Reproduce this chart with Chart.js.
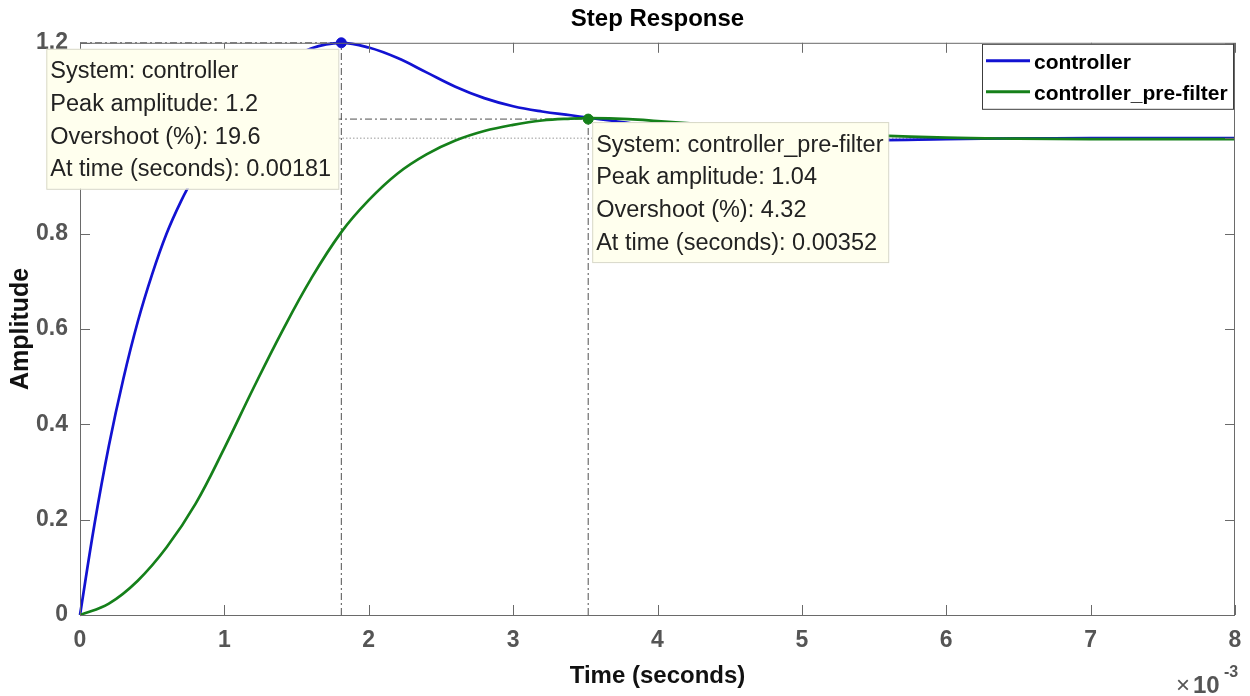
<!DOCTYPE html>
<html>
<head>
<meta charset="utf-8">
<title>Step Response</title>
<script src="https://cdn.jsdelivr.net/npm/chart.js@4.4.1/dist/chart.umd.min.js"></script>
<style>
  html, body { margin: 0; padding: 0; background: #fff; }
</style>
</head>
<body>
<canvas id="stepChart" width="1250" height="696"></canvas>
<script>
// time axis is in ms (the axis shows x10^-3 seconds)
const timeController = [0, 0.1, 0.2, 0.3, 0.4, 0.5, 0.6, 0.7, 0.8, 0.9, 1.0, 1.2, 1.4, 1.6, 1.81, 2.0, 2.2, 2.4, 2.6, 2.8, 3.0, 3.2, 3.4, 3.52, 3.7, 4.0, 4.5, 5.0, 5.5, 6.0, 6.5, 7.0, 8.0];
const ampController = [0, 0.19, 0.355, 0.495, 0.615, 0.715, 0.80, 0.868, 0.925, 0.975, 1.02, 1.098, 1.155, 1.188, 1.2, 1.19, 1.168, 1.138, 1.108, 1.084, 1.067, 1.056, 1.048, 1.043, 1.036, 1.024, 1.008, 0.999, 0.996, 0.998, 0.9995, 1.0, 1.0];

const timePrefilter = [0, 0.2, 0.4, 0.6, 0.8, 1.0, 1.2, 1.4, 1.6, 1.81, 2.0, 2.2, 2.4, 2.6, 2.8, 3.0, 3.2, 3.4, 3.52, 3.8, 4.0, 4.5, 5.0, 5.5, 6.0, 6.5, 7.0, 7.5, 8.0];
const ampPrefilter = [0, 0.024, 0.072, 0.142, 0.233, 0.35, 0.475, 0.595, 0.705, 0.803, 0.870, 0.926, 0.966, 0.995, 1.015, 1.028, 1.037, 1.041, 1.042, 1.040, 1.036, 1.025, 1.014, 1.006, 1.001, 0.999, 0.998, 0.998, 0.998];

const seriesNames = ['controller', 'controller_pre-filter'];
const peakTime = [1.81, 3.52];
const peakAmp = [1.2, 1.04];
const peakOvershoot = ['19.6', '4.32'];
const peakTimeSec = ['0.00181', '0.00352'];
const steadyState = 1.0;

const xTicks = [0, 1, 2, 3, 4, 5, 6, 7, 8];
const yTicks = [0, 0.2, 0.4, 0.6, 0.8, 1, 1.2];
const yTickLabels = ['0', '0.2', '0.4', '0.6', '0.8', '1', '1.2'];

const BLUE = '#1212d2';
const GREEN = '#15801a';
const AXIS = '#6a6a6a';
const FONT = '"Liberation Sans", Arial, sans-serif';

Chart.defaults.font.family = FONT;

const toPoints = (ts, vs) => ts.map((t, i) => ({ x: t, y: vs[i] }));

const decorations = {
  id: 'decorations',
  beforeDatasetsDraw(chart) {
    const { ctx, chartArea: a, scales: { x, y } } = chart;
    ctx.save();
    // steady state line
    ctx.strokeStyle = '#9a9a9a';
    ctx.lineWidth = 1;
    ctx.setLineDash([1.5, 2]);
    const ys = y.getPixelForValue(steadyState);
    ctx.beginPath();
    ctx.moveTo(a.left, ys);
    ctx.lineTo(a.right, ys);
    ctx.stroke();
    // dash-dot guides to the peaks
    ctx.strokeStyle = '#505050';
    ctx.setLineDash([7, 3, 2, 3]);
    peakTime.forEach((t, i) => {
      const px = x.getPixelForValue(t);
      const py = y.getPixelForValue(peakAmp[i]);
      ctx.beginPath();
      ctx.moveTo(px, a.bottom);
      ctx.lineTo(px, py);
      ctx.moveTo(a.left, py);
      ctx.lineTo(px, py);
      ctx.stroke();
    });
    ctx.restore();
  },
  afterDraw(chart) {
    const { ctx, chartArea: a, scales: { x, y } } = chart;
    ctx.save();

    // axes box and inward ticks
    ctx.strokeStyle = AXIS;
    ctx.lineWidth = 1;
    ctx.setLineDash([]);
    ctx.strokeRect(a.left + 0.5, a.top + 0.5, a.right - a.left - 1, a.bottom - a.top);
    const tl = 10;
    ctx.beginPath();
    x.ticks.forEach(tk => {
      const px = Math.round(x.getPixelForValue(tk.value)) + 0.5;
      ctx.moveTo(px, a.bottom); ctx.lineTo(px, a.bottom - tl);
      ctx.moveTo(px, a.top); ctx.lineTo(px, a.top + tl);
    });
    y.ticks.forEach(tk => {
      const py = Math.round(y.getPixelForValue(tk.value)) + 0.5;
      ctx.moveTo(a.left, py); ctx.lineTo(a.left + tl, py);
      ctx.moveTo(a.right, py); ctx.lineTo(a.right - tl, py);
    });
    ctx.stroke();

    // exponent label
    ctx.fillStyle = '#555';
    ctx.textBaseline = 'alphabetic';
    ctx.textAlign = 'left';
    ctx.font = '24px ' + FONT;
    ctx.fillText('\u00d7', a.right - 59, 693);
    ctx.font = 'bold 24px ' + FONT;
    ctx.fillText('10', a.right - 42, 693);
    ctx.font = 'bold 16px ' + FONT;
    ctx.fillText('-3', a.right - 11, 677);

    // legend
    const lw = 251, lh = 65;
    const lx = a.right - lw - 2, ly = a.top + 1;
    ctx.fillStyle = '#fff';
    ctx.fillRect(lx, ly, lw, lh);
    ctx.strokeStyle = '#3c3c3c';
    ctx.strokeRect(lx + 0.5, ly + 0.5, lw, lh);
    chart.data.datasets.slice(0, 2).forEach((ds, i) => {
      const cy = ly + 17 + i * 31;
      ctx.strokeStyle = ds.borderColor;
      ctx.lineWidth = 3;
      ctx.beginPath();
      ctx.moveTo(lx + 4, cy);
      ctx.lineTo(lx + 48, cy);
      ctx.stroke();
      ctx.fillStyle = '#000';
      ctx.font = 'bold 21px ' + FONT;
      ctx.textBaseline = 'middle';
      ctx.fillText(ds.label, lx + 52, cy + 2);
    });

    // data tips
    const boxes = [
      { dx: -295, dy: 6, w: 292 },
      { dx: 4, dy: 3, w: 296 }
    ];
    peakTime.forEach((t, i) => {
      const px = x.getPixelForValue(t);
      const py = y.getPixelForValue(peakAmp[i]);
      const b = boxes[i];
      const bx = px + b.dx, by = py + b.dy, bh = 140;
      ctx.fillStyle = '#ffffee';
      ctx.fillRect(bx, by, b.w, bh);
      ctx.strokeStyle = '#d8d8c8';
      ctx.lineWidth = 1;
      ctx.strokeRect(bx + 0.5, by + 0.5, b.w, bh);
      const lines = [
        'System: ' + seriesNames[i],
        'Peak amplitude: ' + peakAmp[i],
        'Overshoot (%): ' + peakOvershoot[i],
        'At time (seconds): ' + peakTimeSec[i]
      ];
      ctx.fillStyle = '#222';
      ctx.font = '23.5px ' + FONT;
      ctx.textBaseline = 'middle';
      ctx.textAlign = 'left';
      lines.forEach((s, k) => ctx.fillText(s, bx + 4, by + 23 + k * 32.7));
    });

    ctx.restore();
  }
};

new Chart(document.getElementById('stepChart'), {
  type: 'line',
  data: {
    datasets: [
      {
        label: seriesNames[0],
        data: toPoints(timeController, ampController),
        borderColor: BLUE,
        borderWidth: 2.7,
        pointRadius: 0,
        tension: 0.4,
        clip: false,
        order: 2
      },
      {
        label: seriesNames[1],
        data: toPoints(timePrefilter, ampPrefilter),
        borderColor: GREEN,
        borderWidth: 2.7,
        pointRadius: 0,
        tension: 0.4,
        clip: false,
        order: 1
      },
      {
        label: 'peaks',
        type: 'scatter',
        data: toPoints(peakTime, peakAmp),
        pointRadius: 5,
        pointBackgroundColor: [BLUE, GREEN],
        pointBorderColor: [BLUE, GREEN],
        clip: false,
        order: 0
      }
    ]
  },
  options: {
    responsive: false,
    animation: false,
    events: [],
    layout: { padding: { left: 0, right: 15, top: 0, bottom: 0 } },
    plugins: {
      legend: { display: false },
      tooltip: { enabled: false },
      title: {
        display: true,
        fullSize: false,
        text: 'Step Response',
        color: '#000',
        font: { size: 24, weight: 'bold' },
        padding: { top: 5, bottom: 9 }
      }
    },
    scales: {
      x: {
        type: 'linear',
        min: 0,
        max: 8,
        offset: false,
        afterBuildTicks: s => { s.ticks = xTicks.map(v => ({ value: v })); },
        afterFit: s => { s.height = 81; s.paddingLeft = 0; s.paddingRight = 0; },
        grid: { display: false, drawTicks: false, offset: false },
        border: { display: false },
        ticks: {
          color: '#555',
          font: { size: 23, weight: 'bold' },
          padding: 12,
          maxRotation: 0,
          autoSkip: false,
          callback: v => String(v)
        },
        title: {
          display: true,
          text: 'Time (seconds)',
          color: '#111',
          font: { size: 24, weight: 'bold' },
          padding: { top: 0, bottom: 5 }
        }
      },
      y: {
        type: 'linear',
        min: 0,
        max: 1.2,
        afterBuildTicks: s => { s.ticks = yTicks.map(v => ({ value: v })); },
        afterFit: s => { s.width = 80; },
        grid: { display: false, drawTicks: false },
        border: { display: false },
        ticks: {
          color: '#555',
          font: { size: 23, weight: 'bold' },
          padding: 12,
          autoSkip: false,
          callback: (v, i) => yTickLabels[i]
        },
        title: {
          display: true,
          text: 'Amplitude',
          color: '#111',
          font: { size: 25, weight: 'bold' },
          padding: { top: 6, bottom: 6 }
        }
      }
    }
  },
  plugins: [decorations]
});
</script>
</body>
</html>
